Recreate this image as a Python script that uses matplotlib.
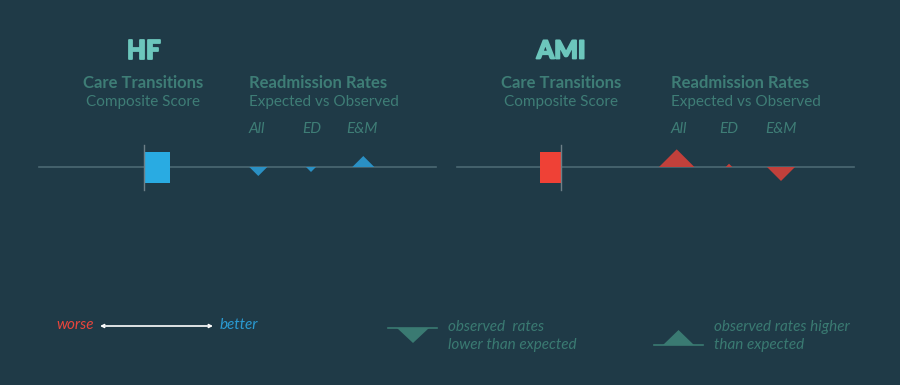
# Care transitions vs readmission rates, HF and AMI
import matplotlib.pyplot as plt
import matplotlib.patheffects as pe
from matplotlib.patches import Polygon, Rectangle

# data
conditions = ['HF', 'AMI']
composite_score = [0.26, -0.21]          # + better, - worse
readmit_labels = ['All', 'ED', 'E&M']
readmit_diff = {                        # observed - expected
    'HF': [-0.09, -0.05, 0.11],
    'AMI': [0.177, 0.033, -0.14],
}

# colours
bg = '#1f3a47'
title_col = '#6cc6bc'
sub_col = '#3e7d76'
base_col = '#4b6873'
bar_col = {'HF': '#29abe2', 'AMI': '#ef4136'}
tri_col = {'HF': '#2a90c4', 'AMI': '#c1403b'}
better_col = '#2a9ad2'
worse_col = '#e8453c'

plt.rcParams['font.family'] = ['Lato', 'DejaVu Sans']

fig = plt.figure(figsize=(9, 3.85), dpi=100, facecolor=bg)
ax = fig.add_axes([0, 0, 1, 1])
ax.set_xlim(0, 900)
ax.set_ylim(385, 0)
ax.axis('off')

scale = 100      # px per unit
y0 = 167
panels = {
    'HF': dict(left=39, right=436, ref=143.5, tri_x=[258.3, 311, 363.3],
               lab_x=[249, 302, 346]),
    'AMI': dict(left=457, right=854, ref=561, tri_x=[676.7, 729, 781],
                lab_x=[671, 719, 765]),
}

for name, score in zip(conditions, composite_score):
    p = panels[name]
    ref = p['ref']
    ax.plot([p['left'], p['right']], [y0, y0], color=base_col, lw=1.2, zorder=1)
    w = score * scale
    ax.add_patch(Rectangle((min(ref, ref + w), 152), abs(w), 31,
                           facecolor=bar_col[name], zorder=2))
    ax.plot([ref, ref], [145, 190], color='#6d7f87', lw=1, zorder=3)

    for x, d in zip(p['tri_x'], readmit_diff[name]):
        h = d * scale
        ax.add_patch(Polygon([(x - abs(h), y0), (x + abs(h), y0), (x, y0 - h)],
                             closed=True, facecolor=tri_col[name], edgecolor='none', zorder=2))

    # titles
    ax.text(ref, 51, name, color=title_col, fontsize=18, fontweight='black',
            ha='center', va='center',
            path_effects=[pe.withStroke(linewidth=1.3, foreground=title_col)])
    ax.text(ref, 83, 'Care Transitions', color=sub_col, fontsize=12,
            fontweight='bold', ha='center', va='center')
    ax.text(ref, 102, 'Composite Score', color=sub_col, fontsize=11,
            ha='center', va='center')
    rx = p['lab_x'][0]
    ax.text(rx, 83, 'Readmission Rates', color=sub_col, fontsize=12,
            fontweight='bold', ha='left', va='center')
    ax.text(rx, 102, 'Expected vs Observed', color=sub_col, fontsize=11,
            ha='left', va='center')
    for x, lab in zip(p['lab_x'], readmit_labels):
        ax.text(x, 129, lab, color=sub_col, fontsize=11, style='italic',
                ha='left', va='center')

# legend: worse <-> better
ax.text(94, 325, 'worse', color=worse_col, fontsize=11, style='italic',
        ha='right', va='center')
ax.annotate('', xy=(213, 326), xytext=(100, 326),
            arrowprops=dict(arrowstyle='<->', color='white', lw=1.2,
                            mutation_scale=5, shrinkA=0, shrinkB=0))
ax.text(220, 325, 'better', color=better_col, fontsize=11, style='italic',
        ha='left', va='center')

# legend: triangles
leg_col = '#3a7a72'
ax.plot([388, 437], [328, 328], color=leg_col, lw=1.2)
ax.add_patch(Polygon([(397, 328), (429, 328), (413, 343)], facecolor=leg_col))
ax.text(448, 327, 'observed  rates', color=leg_col, fontsize=11,
        style='italic', ha='left', va='center')
ax.text(448, 345, 'lower than expected', color=leg_col, fontsize=11,
        style='italic', ha='left', va='center')

ax.plot([654, 703], [345, 345], color=leg_col, lw=1.2)
ax.add_patch(Polygon([(663, 345), (694, 345), (678.5, 330)], facecolor=leg_col))
ax.text(714, 327, 'observed rates higher', color=leg_col, fontsize=11,
        style='italic', ha='left', va='center')
ax.text(714, 345, 'than expected', color=leg_col, fontsize=11,
        style='italic', ha='left', va='center')

fig.savefig('out.png', dpi=100, facecolor=bg)
